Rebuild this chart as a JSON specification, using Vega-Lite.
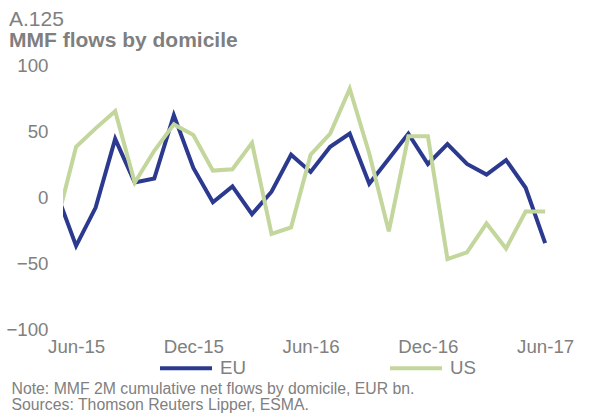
{
  "$schema": "https://vega.github.io/schema/vega-lite/v6.json",
  "autosize": "none",
  "width": 489,
  "height": 264,
  "padding": {"left": 63, "top": 65, "right": 38, "bottom": 89},
  "background": "white",
  "config": {
    "view": {"stroke": null},
    "font": "Liberation Sans"
  },
  "title": {
    "text": "A.125",
    "subtitle": "MMF flows by domicile",
    "anchor": "start",
    "frame": "group",
    "dx": -54,
    "offset": 5,
    "fontSize": 21,
    "fontWeight": "normal",
    "color": "#7f7f7f",
    "subtitleFontSize": 21,
    "subtitleFontWeight": "bold",
    "subtitleColor": "#7f7f7f",
    "subtitlePadding": 0,
    "font": "Liberation Sans",
    "subtitleFont": "Liberation Sans"
  },
  "data": {
    "values": [
      {"i": 0, "month": "May-15", "series": "EU", "value": 3},
      {"i": 1, "month": "Jun-15", "series": "EU", "value": -37},
      {"i": 2, "month": "Jul-15", "series": "EU", "value": -8},
      {"i": 3, "month": "Aug-15", "series": "EU", "value": 44},
      {"i": 4, "month": "Sep-15", "series": "EU", "value": 11},
      {"i": 5, "month": "Oct-15", "series": "EU", "value": 14},
      {"i": 6, "month": "Nov-15", "series": "EU", "value": 62},
      {"i": 7, "month": "Dec-15", "series": "EU", "value": 22},
      {"i": 8, "month": "Jan-16", "series": "EU", "value": -4},
      {"i": 9, "month": "Feb-16", "series": "EU", "value": 8},
      {"i": 10, "month": "Mar-16", "series": "EU", "value": -13},
      {"i": 11, "month": "Apr-16", "series": "EU", "value": 4},
      {"i": 12, "month": "May-16", "series": "EU", "value": 32},
      {"i": 13, "month": "Jun-16", "series": "EU", "value": 19},
      {"i": 14, "month": "Jul-16", "series": "EU", "value": 38},
      {"i": 15, "month": "Aug-16", "series": "EU", "value": 48},
      {"i": 16, "month": "Sep-16", "series": "EU", "value": 10},
      {"i": 17, "month": "Oct-16", "series": "EU", "value": 29},
      {"i": 18, "month": "Nov-16", "series": "EU", "value": 48},
      {"i": 19, "month": "Dec-16", "series": "EU", "value": 25},
      {"i": 20, "month": "Jan-17", "series": "EU", "value": 40},
      {"i": 21, "month": "Feb-17", "series": "EU", "value": 25},
      {"i": 22, "month": "Mar-17", "series": "EU", "value": 17},
      {"i": 23, "month": "Apr-17", "series": "EU", "value": 28},
      {"i": 24, "month": "May-17", "series": "EU", "value": 7},
      {"i": 25, "month": "Jun-17", "series": "EU", "value": -35},
      {"i": 0, "month": "May-15", "series": "US", "value": -20},
      {"i": 1, "month": "Jun-15", "series": "US", "value": 38},
      {"i": 2, "month": "Jul-15", "series": "US", "value": 52},
      {"i": 3, "month": "Aug-15", "series": "US", "value": 65},
      {"i": 4, "month": "Sep-15", "series": "US", "value": 11},
      {"i": 5, "month": "Oct-15", "series": "US", "value": 35},
      {"i": 6, "month": "Nov-15", "series": "US", "value": 55},
      {"i": 7, "month": "Dec-15", "series": "US", "value": 47},
      {"i": 8, "month": "Jan-16", "series": "US", "value": 20},
      {"i": 9, "month": "Feb-16", "series": "US", "value": 21},
      {"i": 10, "month": "Mar-16", "series": "US", "value": 41},
      {"i": 11, "month": "Apr-16", "series": "US", "value": -28},
      {"i": 12, "month": "May-16", "series": "US", "value": -23},
      {"i": 13, "month": "Jun-16", "series": "US", "value": 32},
      {"i": 14, "month": "Jul-16", "series": "US", "value": 48},
      {"i": 15, "month": "Aug-16", "series": "US", "value": 82},
      {"i": 16, "month": "Sep-16", "series": "US", "value": 33},
      {"i": 17, "month": "Oct-16", "series": "US", "value": -26},
      {"i": 18, "month": "Nov-16", "series": "US", "value": 46},
      {"i": 19, "month": "Dec-16", "series": "US", "value": 46},
      {"i": 20, "month": "Jan-17", "series": "US", "value": -47},
      {"i": 21, "month": "Feb-17", "series": "US", "value": -42},
      {"i": 22, "month": "Mar-17", "series": "US", "value": -20},
      {"i": 23, "month": "Apr-17", "series": "US", "value": -39},
      {"i": 24, "month": "May-17", "series": "US", "value": -11},
      {"i": 25, "month": "Jun-17", "series": "US", "value": -11}
    ]
  },
  "mark": {"type": "line", "strokeWidth": 4, "clip": true, "strokeJoin": "miter"},
  "encoding": {
    "x": {
      "field": "i",
      "type": "quantitative",
      "scale": {"domain": [0.33, 25.35], "nice": false, "zero": false},
      "axis": {
        "values": [1, 7, 13, 19, 25],
        "labelExpr": "datum.value == 1 ? 'Jun-15' : datum.value == 7 ? 'Dec-15' : datum.value == 13 ? 'Jun-16' : datum.value == 19 ? 'Dec-16' : 'Jun-17'",
        "grid": false,
        "domain": false,
        "ticks": false,
        "tickSize": 0,
        "labelPadding": 8,
        "labelFontSize": 18.7,
        "labelColor": "#808080",
        "labelFont": "Liberation Sans",
        "labelFlush": false,
        "labelOverlap": false,
        "title": ["Note: MMF 2M cumulative net flows by domicile, EUR bn.", "Sources:  Thomson Reuters Lipper,  ESMA."],
        "titleFontSize": 15.8,
        "titleFontWeight": "normal",
        "titleColor": "#808080",
        "titleFont": "Liberation Sans",
        "titleAnchor": "start",
        "titleAlign": "left",
        "titleBaseline": "alphabetic",
        "titleX": -52,
        "titleY": 64,
        "titleLineHeight": 16.7
      }
    },
    "y": {
      "field": "value",
      "type": "quantitative",
      "scale": {"domain": [-100, 100], "nice": false},
      "axis": {
        "values": [-100, -50, 0, 50, 100],
        "grid": false,
        "domain": false,
        "ticks": false,
        "tickSize": 0,
        "labelPadding": 15,
        "labelFontSize": 18.7,
        "labelColor": "#808080",
        "labelFont": "Liberation Sans",
        "title": null
      }
    },
    "color": {
      "field": "series",
      "type": "nominal",
      "scale": {"domain": ["EU", "US"], "range": ["#2B3A8F", "#C3D69B"]},
      "legend": {
        "title": null,
        "orient": "none",
        "direction": "horizontal",
        "legendX": 95,
        "legendY": 275,
        "padding": 0,
        "symbolType": "stroke",
        "symbolSize": 2704,
        "symbolStrokeWidth": 4,
        "labelFontSize": 18.7,
        "labelColor": "#808080",
        "labelFont": "Liberation Sans",
        "labelOffset": 6,
        "columnPadding": 136
      }
    }
  }
}
